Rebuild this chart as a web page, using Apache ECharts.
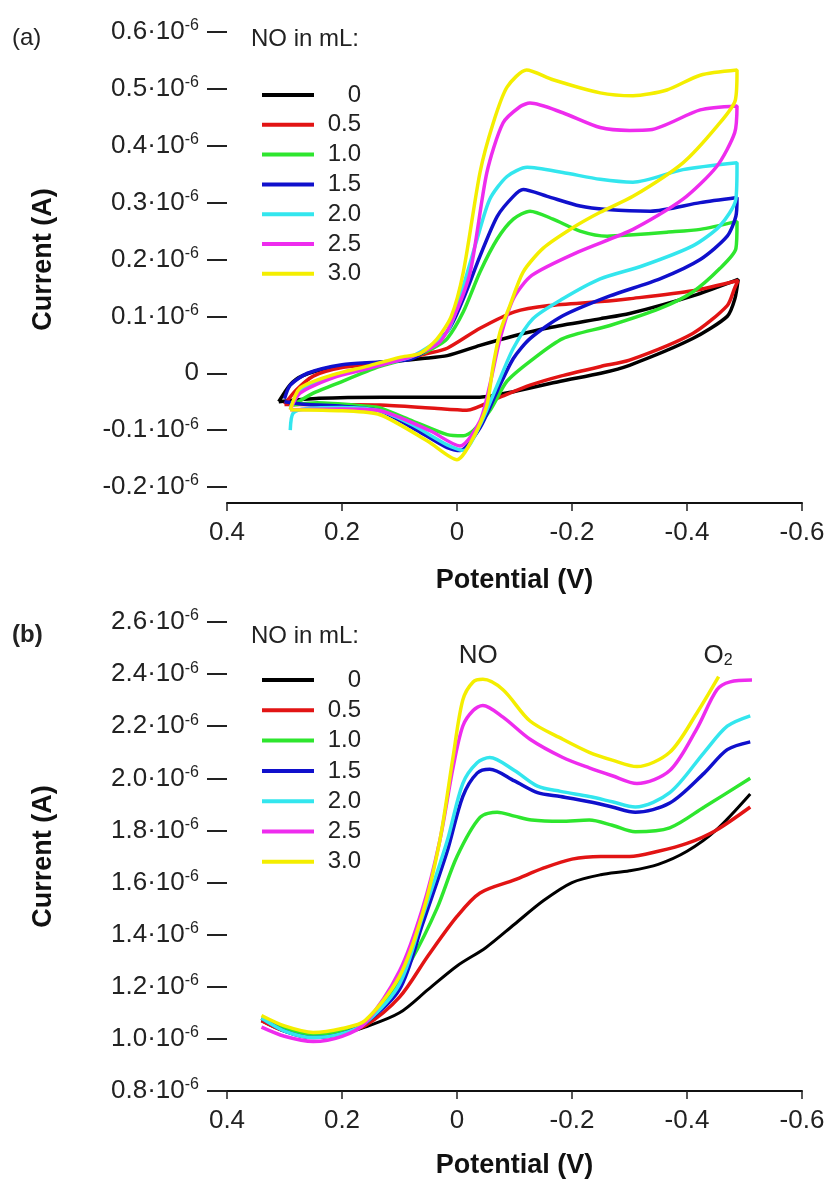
<!DOCTYPE html>
<html>
<head>
<meta charset="utf-8">
<script src="https://cdn.jsdelivr.net/npm/echarts@6.0.0/dist/echarts.min.js"></script>
<style>
html,body{margin:0;padding:0;background:#fff;}
#chart{width:828px;height:1187px;}
</style>
</head>
<body>
<div id="chart"></div>
<script>
// ---------- DATA ----------
const noVolumes = ['0', '0.5', '1.0', '1.5', '2.0', '2.5', '3.0'];
const lineColors = ['#000000', '#e21414', '#2ee62e', '#1010cc', '#33e6ee', '#ee2cee', '#f4ee00'];

// (a) cyclic voltammograms: [potential V, current in 1e-6 A]
const cv0 = [[0.31,-0.05],[0.29,-0.02],[0.27,-0.005],[0.22,0.01],[0.16,0.017],[0.10,0.022],[0.06,0.026],[0.017,0.031],[-0.04,0.049],[-0.10,0.066],[-0.16,0.08],[-0.25,0.096],[-0.30,0.105],[-0.41,0.136],[-0.489,0.165],
  [-0.483,0.13],[-0.47,0.10],[-0.41,0.061],[-0.30,0.014],[-0.25,0.0],[-0.18,-0.014],[-0.10,-0.032],[-0.04,-0.042],[0.02,-0.042],[0.13,-0.042],[0.24,-0.044],[0.31,-0.05]];
const cv05 = [[0.30,-0.055],[0.28,-0.03],[0.25,-0.005],[0.20,0.01],[0.13,0.017],[0.05,0.035],[0.017,0.044],[-0.04,0.079],[-0.10,0.108],[-0.16,0.119],[-0.25,0.126],[-0.30,0.131],[-0.41,0.145],[-0.489,0.163],
  [-0.483,0.15],[-0.47,0.119],[-0.41,0.07],[-0.30,0.023],[-0.25,0.012],[-0.18,-0.005],[-0.127,-0.021],[-0.07,-0.044],[-0.017,-0.065],[0.047,-0.061],[0.134,-0.056],[0.24,-0.055],[0.30,-0.055]];
const cv10 = [[0.285,-0.056],[0.25,-0.035],[0.216,-0.021],[0.134,0.012],[0.077,0.028],[0.04,0.045],[0.017,0.061],[-0.011,0.108],[-0.04,0.178],[-0.07,0.236],[-0.098,0.271],[-0.127,0.285],[-0.167,0.271],[-0.214,0.25],[-0.261,0.241],[-0.30,0.243],[-0.365,0.248],[-0.423,0.253],[-0.487,0.267],
  [-0.485,0.219],[-0.457,0.184],[-0.41,0.143],[-0.353,0.114],[-0.266,0.084],[-0.184,0.061],[-0.127,0.021],[-0.087,-0.014],[-0.057,-0.066],[-0.028,-0.101],[-0.011,-0.11],[0.017,-0.108],[0.077,-0.084],[0.134,-0.061],[0.157,-0.058],[0.243,-0.052],[0.285,-0.056]];
const cv15 = [[0.30,-0.045],[0.29,-0.021],[0.26,0.0],[0.20,0.015],[0.134,0.02],[0.077,0.026],[0.017,0.073],[-0.011,0.131],[-0.04,0.206],[-0.07,0.276],[-0.098,0.311],[-0.115,0.323],[-0.157,0.311],[-0.214,0.294],[-0.261,0.288],[-0.336,0.285],[-0.423,0.30],[-0.487,0.309],
  [-0.485,0.276],[-0.47,0.241],[-0.423,0.2],[-0.353,0.166],[-0.266,0.136],[-0.184,0.101],[-0.127,0.061],[-0.098,0.026],[-0.07,-0.031],[-0.04,-0.096],[-0.005,-0.136],[0.017,-0.131],[0.077,-0.096],[0.134,-0.066],[0.20,-0.058],[0.26,-0.055],[0.30,-0.05]];
const cv20 = [[0.29,-0.06],[0.27,-0.03],[0.216,-0.005],[0.134,0.015],[0.077,0.03],[0.017,0.073],[-0.011,0.154],[-0.035,0.236],[-0.057,0.306],[-0.087,0.346],[-0.122,0.362],[-0.184,0.353],[-0.249,0.341],[-0.306,0.336],[-0.393,0.358],[-0.487,0.37],
  [-0.485,0.306],[-0.457,0.259],[-0.41,0.224],[-0.323,0.189],[-0.249,0.166],[-0.184,0.131],[-0.132,0.096],[-0.098,0.044],[-0.07,-0.021],[-0.04,-0.091],[-0.011,-0.136],[0.017,-0.126],[0.077,-0.091],[0.134,-0.066],[0.20,-0.06],[0.26,-0.062],[0.285,-0.07],[0.29,-0.10]];
const cv25 = [[0.29,-0.064],[0.273,-0.035],[0.216,-0.008],[0.157,0.008],[0.077,0.03],[0.03,0.055],[0.005,0.1],[-0.023,0.178],[-0.052,0.353],[-0.08,0.44],[-0.11,0.469],[-0.127,0.475],[-0.184,0.458],[-0.249,0.432],[-0.30,0.427],[-0.336,0.428],[-0.423,0.463],[-0.487,0.47],
  [-0.483,0.423],[-0.452,0.364],[-0.393,0.306],[-0.306,0.253],[-0.21,0.213],[-0.13,0.172],[-0.098,0.131],[-0.075,0.061],[-0.057,-0.021],[-0.04,-0.084],[-0.005,-0.128],[0.047,-0.101],[0.134,-0.066],[0.20,-0.063],[0.29,-0.064]];
const cv30 = [[0.29,-0.064],[0.273,-0.026],[0.216,-0.003],[0.157,0.012],[0.10,0.028],[0.064,0.035],[0.035,0.06],[0.01,0.1],[-0.011,0.178],[-0.04,0.353],[-0.063,0.44],[-0.087,0.503],[-0.121,0.533],[-0.167,0.516],[-0.249,0.493],[-0.306,0.488],[-0.365,0.498],[-0.423,0.524],[-0.487,0.533],
  [-0.484,0.48],[-0.452,0.434],[-0.393,0.37],[-0.306,0.311],[-0.249,0.283],[-0.20,0.255],[-0.15,0.22],[-0.115,0.178],[-0.092,0.119],[-0.075,0.073],[-0.063,0.014],[-0.052,-0.056],[-0.03,-0.11],[0.0,-0.152],[0.05,-0.12],[0.134,-0.073],[0.20,-0.066],[0.29,-0.064]];

// (b) linear sweeps: [potential V, current in 1e-6 A]
const lsv0 = [[0.34,1.07],[0.30,1.03],[0.25,1.01],[0.20,1.02],[0.16,1.045],[0.10,1.10],[0.05,1.19],[0.0,1.28],[-0.05,1.35],[-0.10,1.44],[-0.15,1.53],[-0.20,1.60],[-0.25,1.63],[-0.30,1.645],[-0.35,1.67],[-0.40,1.72],[-0.45,1.80],[-0.51,1.94]];
const lsv05 = [[0.34,1.07],[0.30,1.03],[0.25,1.01],[0.20,1.025],[0.16,1.05],[0.10,1.16],[0.05,1.32],[0.0,1.47],[-0.04,1.56],[-0.10,1.61],[-0.15,1.655],[-0.20,1.69],[-0.25,1.70],[-0.30,1.70],[-0.35,1.72],[-0.40,1.75],[-0.45,1.80],[-0.51,1.89]];
const lsv10 = [[0.34,1.08],[0.30,1.04],[0.25,1.015],[0.20,1.03],[0.16,1.06],[0.13,1.13],[0.08,1.30],[0.035,1.50],[0.0,1.70],[-0.04,1.85],[-0.07,1.87],[-0.10,1.855],[-0.13,1.84],[-0.18,1.835],[-0.23,1.84],[-0.27,1.82],[-0.31,1.795],[-0.37,1.81],[-0.43,1.89],[-0.51,2.00]];
const lsv15 = [[0.34,1.08],[0.30,1.03],[0.25,1.005],[0.20,1.02],[0.16,1.06],[0.10,1.19],[0.06,1.44],[0.017,1.72],[-0.01,1.93],[-0.035,2.02],[-0.057,2.035],[-0.10,1.99],[-0.14,1.945],[-0.18,1.93],[-0.23,1.91],[-0.27,1.89],[-0.31,1.87],[-0.37,1.905],[-0.43,2.02],[-0.47,2.11],[-0.51,2.14]];
const lsv20 = [[0.34,1.08],[0.30,1.03],[0.25,1.005],[0.20,1.02],[0.16,1.06],[0.10,1.21],[0.06,1.47],[0.017,1.76],[-0.01,1.98],[-0.035,2.06],[-0.057,2.08],[-0.10,2.03],[-0.14,1.97],[-0.18,1.95],[-0.23,1.93],[-0.27,1.91],[-0.31,1.89],[-0.37,1.945],[-0.43,2.10],[-0.47,2.20],[-0.51,2.24]];
const lsv25 = [[0.34,1.045],[0.30,1.01],[0.25,0.99],[0.20,1.01],[0.16,1.06],[0.10,1.26],[0.06,1.50],[0.03,1.76],[0.007,2.04],[-0.01,2.20],[-0.028,2.26],[-0.045,2.28],[-0.08,2.235],[-0.127,2.15],[-0.184,2.08],[-0.23,2.04],[-0.27,2.01],[-0.313,1.98],[-0.37,2.03],[-0.417,2.19],[-0.452,2.34],[-0.475,2.37],[-0.513,2.377]];
const lsv30 = [[0.34,1.09],[0.30,1.05],[0.25,1.025],[0.20,1.04],[0.16,1.07],[0.10,1.24],[0.06,1.48],[0.03,1.76],[0.007,2.08],[-0.01,2.30],[-0.028,2.37],[-0.045,2.38],[-0.08,2.34],[-0.127,2.22],[-0.184,2.15],[-0.23,2.10],[-0.27,2.07],[-0.313,2.045],[-0.37,2.10],[-0.417,2.25],[-0.455,2.39]];

const cvSets = [cv0, cv05, cv10, cv15, cv20, cv25, cv30];
const lsvSets = [lsv0, lsv05, lsv10, lsv15, lsv20, lsv25, lsv30];

// peak annotations in panel (b): [potential, current, text]
const peakNotes = [[-0.037, 2.47, 'NO'], [-0.454, 2.47, 'O2']];

// ---------- CHART ----------
const FONT = '"Liberation Sans", Arial, sans-serif';
const chart = echarts.init(document.getElementById('chart'), null, {renderer: 'canvas'});

function fmtX(v) { return Math.abs(v) < 1e-9 ? '0' : v.toFixed(1); }
function fmtY(v) { return Math.abs(v) < 1e-9 ? '{b|0}' : '{b|' + v.toFixed(1) + '·10}{s|-6}'; }

function makeXAxis(gi, offset, gap) {
  return {
    gridIndex: gi, type: 'value', min: -0.6, max: 0.4, interval: 0.2, inverse: true,
    offset: offset,
    axisLine: {show: true, onZero: false, lineStyle: {color: '#111', width: 2}},
    axisTick: {show: true, length: 8, lineStyle: {color: '#222', width: 1.5}},
    splitLine: {show: false},
    axisLabel: {margin: 17, fontSize: 26, color: '#222', fontFamily: FONT, formatter: fmtX},
    name: 'Potential (V)', nameLocation: 'middle', nameGap: gap,
    nameTextStyle: {fontSize: 27, fontWeight: 'bold', color: '#111', fontFamily: FONT}
  };
}
function makeYAxis(gi, min, max, interval) {
  return {
    gridIndex: gi, type: 'value', min: min, max: max, interval: interval,
    axisLine: {show: false, onZero: false},
    axisTick: {show: true, length: 20, lineStyle: {color: '#222', width: 2}},
    splitLine: {show: false},
    axisLabel: {
      margin: 28, formatter: fmtY, color: '#222', fontFamily: FONT,
      rich: {
        b: {fontSize: 26, lineHeight: 28, color: '#222', fontFamily: FONT},
        s: {fontSize: 16, lineHeight: 16, verticalAlign: 'top', color: '#222', fontFamily: FONT}
      }
    },
    name: 'Current (A)', nameLocation: 'middle', nameGap: 170,
    nameTextStyle: {fontSize: 27, fontWeight: 'bold', color: '#111', fontFamily: FONT}
  };
}
function makeLegend(top, gap) {
  return {
    orient: 'vertical', left: 257, top: top, itemWidth: 52, itemHeight: 4, itemGap: gap,
    icon: 'rect', data: noVolumes, selectedMode: false,
    formatter: '{n|{name}}',
    textStyle: {
      fontFamily: FONT, color: '#222',
      rich: {n: {width: 42, align: 'right', fontSize: 24, lineHeight: 20, fontFamily: FONT, color: '#222'}}
    }
  };
}

const series = [];
cvSets.forEach((d, i) => {
  series.push({
    name: noVolumes[i], type: 'line', xAxisIndex: 0, yAxisIndex: 0, data: d,
    showSymbol: false, smooth: 0.25, silent: true,
    lineStyle: {color: lineColors[i], width: 3.5}, itemStyle: {color: lineColors[i]}
  });
});
lsvSets.forEach((d, i) => {
  const s = {
    name: noVolumes[i], type: 'line', xAxisIndex: 1, yAxisIndex: 1, data: d,
    showSymbol: false, smooth: 0.3, silent: true,
    lineStyle: {color: lineColors[i], width: i === 0 ? 3 : 3.5}, itemStyle: {color: lineColors[i]}
  };
  if (i === lsvSets.length - 1) {
    s.markPoint = {
      silent: true, symbol: 'rect', symbolSize: 1,
      itemStyle: {color: 'rgba(0,0,0,0)'},
      label: {
        show: true, position: 'inside', color: '#222', fontFamily: FONT,
        formatter: p => p.name === 'O2' ? 'O{sub|2}' : '{m|' + p.name + '}',
        rich: {
          m: {fontSize: 26, fontFamily: FONT, color: '#222'},
          sub: {fontSize: 16, verticalAlign: 'bottom', lineHeight: 12, fontFamily: FONT, color: '#222'}
        },
        fontSize: 26
      },
      data: peakNotes.map(p => ({name: p[2], coord: [p[0], p[1]]}))
    };
  }
  series.push(s);
});

chart.setOption({
  animation: false,
  backgroundColor: '#fff',
  textStyle: {fontFamily: FONT},
  title: [
    {text: 'NO in mL:', left: 246, top: 22, textStyle: {fontSize: 24, fontWeight: 'normal', color: '#222', fontFamily: FONT}},
    {text: 'NO in mL:', left: 246, top: 619, textStyle: {fontSize: 24, fontWeight: 'normal', color: '#222', fontFamily: FONT}}
  ],
  graphic: [
    {type: 'text', left: 12, top: 26, style: {text: '(a)', fontSize: 24, fill: '#222', fontFamily: FONT}},
    {type: 'text', left: 12, top: 623, style: {text: '(b)', fontSize: 24, fontWeight: 'bold', fill: '#222', fontFamily: FONT}}
  ],
  legend: [makeLegend(78, 5.8), makeLegend(663, 6.3)],
  grid: [
    {left: 227, right: 26, top: 32, height: 455},
    {left: 227, right: 26, top: 622, height: 469}
  ],
  xAxis: [makeXAxis(0, 16, 64), makeXAxis(1, 0, 61)],
  yAxis: [makeYAxis(0, -0.2, 0.6, 0.1), makeYAxis(1, 0.8, 2.6, 0.2)],
  series: series
});
</script>
</body>
</html>
